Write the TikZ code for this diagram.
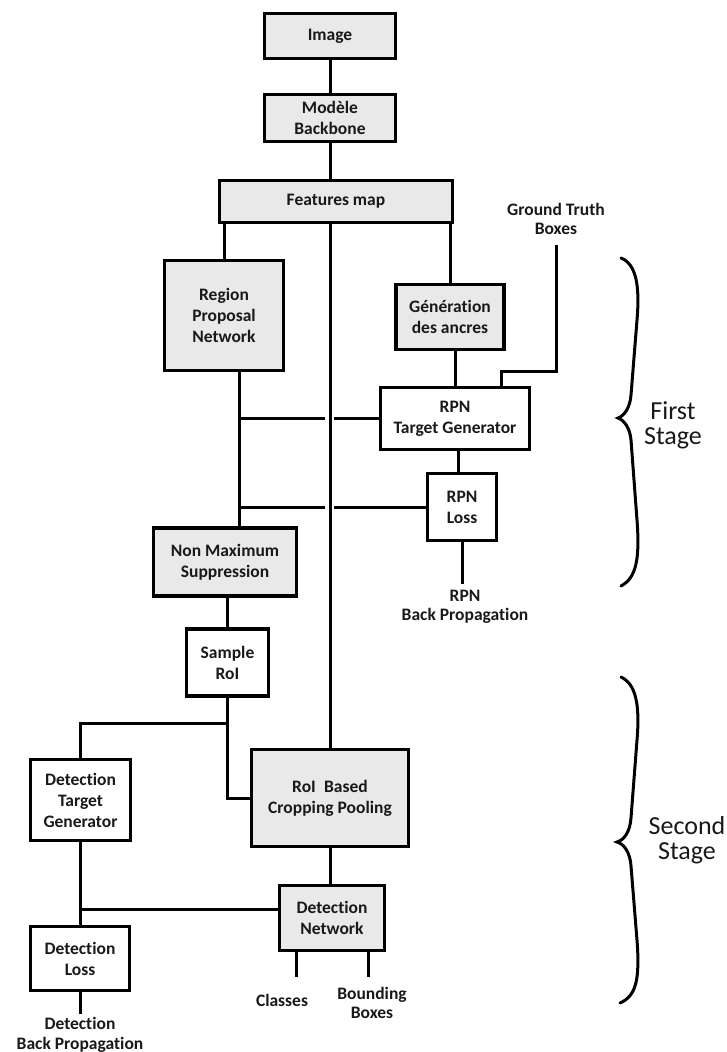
\documentclass[tikz,border=0pt]{standalone}
\usepackage{fontspec}
\setmainfont{Carlito}[Ligatures=NoCommon]
\definecolor{boxgray}{RGB}{233,233,233}
\definecolor{ink}{RGB}{25,25,25}
\tikzset{
  box/.style={draw=black, line width=3.6pt, align=center, text=ink,
    font=\fontsize{17.5}{21}\selectfont\bfseries, inner sep=0pt},
  graybox/.style={box, fill=boxgray},
  whitebox/.style={box, fill=white},
  conn/.style={line width=3pt, draw=black},
  lbl/.style={align=center, text=ink, font=\fontsize{17.5}{19.5}\selectfont\bfseries, inner sep=0pt},
  stagelbl/.style={align=center, text=ink, font=\fontsize{26}{25}\selectfont, inner sep=0pt},
  bracestroke/.style={line width=3pt, line cap=round, draw=black}
}
\begin{document}
\begin{tikzpicture}[x=1pt,y=-1pt]
\useasboundingbox[fill=white] (0,0) rectangle (727,1052);

% boxes
\node[graybox, minimum width=131pt, minimum height=45pt] (img) at (330,36) {Image};
\node[graybox, minimum width=131pt, minimum height=47pt] (bb) at (330,118) {Modèle\\Backbone};
\node[graybox, minimum width=233pt, minimum height=42pt] (feat) at (336,201.5) {Features map};
\node[graybox, minimum width=119pt, minimum height=110pt] (rpn) at (224,315.5) {Region\\Proposal\\Network};
\node[graybox, minimum width=108pt, minimum height=65pt] (gen) at (450,317) {Génération\\des ancres};
\node[whitebox, minimum width=149pt, minimum height=62pt] (rpntg) at (455,418.5) {RPN\\Target Generator};
\node[whitebox, minimum width=69pt, minimum height=67pt] (rpnloss) at (462,507) {RPN\\Loss};
\node[graybox, minimum width=143pt, minimum height=68pt] (nms) at (225,562) {Non Maximum\\Suppression};
\node[whitebox, minimum width=82pt, minimum height=67pt] (sample) at (227.5,662.5) {Sample\\RoI};
\node[graybox, minimum width=157pt, minimum height=97pt] (roi) at (330,798) {RoI\hspace{0.25em} Based\\Cropping Pooling};
\node[graybox, minimum width=105pt, minimum height=65pt] (detnet) at (332,918) {Detection\\Network};
\node[whitebox, minimum width=100pt, minimum height=81pt] (dtg) at (80.5,800) {Detection\\Target\\Generator};
\node[whitebox, minimum width=99pt, minimum height=64pt] (detloss) at (80,958.5) {Detection\\Loss};

% free labels
\node[lbl] (gt) at (556,219) {Ground Truth\\Boxes};
\node[lbl] (rpnbp) at (465,607) {RPN\\Back Propagation};
\node[lbl] (dbp) at (80,1035) {Detection\\Back Propagation};
\node[lbl] (cls) at (282,1000) {Classes};
\node[lbl] (bbox) at (372,1003) {Bounding\\Boxes};
\node[stagelbl] (s1) at (673,425) {First\\Stage};
\node[stagelbl] (s2) at (687,840) {Second\\Stage};

% connectors
\draw[conn] (img) -- (bb);
\draw[conn] (bb) -- (bb.south |- feat.north);
\draw[conn] (rpn.north |- feat.south) -- (rpn.north);
\draw[conn] (gen.north |- feat.south) -- (gen.north);
\draw[conn] (roi.north |- feat.south) -- (roi.north);
\draw[conn] ([xshift=15pt]rpn.south) -- ([xshift=15pt]rpn.south |- nms.north);
\draw[conn] (rpntg.north |- gen.south) -- (rpntg.north);
\coordinate (gtk) at (501,371);
\draw[conn] ([yshift=-10pt]gt.south) |- (gtk) -- (gtk |- rpntg.north);
\draw[conn] ([xshift=3pt]rpntg.south) -- ([xshift=3pt]rpntg.south |- rpnloss.north);
\draw[conn] (rpnloss.south) -- ([yshift=6pt]rpnbp.north -| rpnloss.south);
% horizontals with gaps at the middle line
\draw[conn] ([xshift=15pt]rpn.south |- rpntg.west) -- ([xshift=-5pt]roi.north |- rpntg.west);
\draw[conn] ([xshift=4pt]roi.north |- rpntg.west) -- (rpntg.west);
\draw[conn] ([xshift=15pt]rpn.south |- rpnloss.west) -- ([xshift=-5pt]roi.north |- rpnloss.west);
\draw[conn] ([xshift=4pt]roi.north |- rpnloss.west) -- (rpnloss.west);
\draw[conn] (sample.north |- nms.south) -- (sample.north);
\draw[conn] (sample.south) |- (roi.west);
\coordinate (brk) at (228,723);
\draw[conn] (brk) -| (dtg.north);
\draw[conn] (roi.south) -- (roi.south |- detnet.north);
\draw[conn] (dtg.south) -- (dtg.south |- detloss.north);
\draw[conn] ([yshift=9pt]detnet.west) -- ([yshift=9pt]detnet.west -| dtg.south);
\draw[conn] (detloss.south) -- ([yshift=3pt]dbp.north -| detloss.south);
\draw[conn] ([xshift=-36pt]detnet.south) -- ++(0,25);
\draw[conn] ([xshift=36pt]detnet.south) -- ++(0,25);

% braces
\draw[bracestroke] (621,258) .. controls (636,264) and (640,285) .. (637,320)
  -- (631,395) .. controls (630,408) and (624,416) .. (618,418)
  .. controls (624,420) and (630,428) .. (631,440)
  -- (637,520) .. controls (640,560) and (636,578) .. (621,586);
\draw[bracestroke] (621,677) .. controls (636,684) and (640,705) .. (637,740)
  -- (631,818) .. controls (630,832) and (624,840) .. (617,842)
  .. controls (624,844) and (630,852) .. (631,866)
  -- (637,940) .. controls (640,980) and (636,996) .. (620,1003);
\end{tikzpicture}
\end{document}
